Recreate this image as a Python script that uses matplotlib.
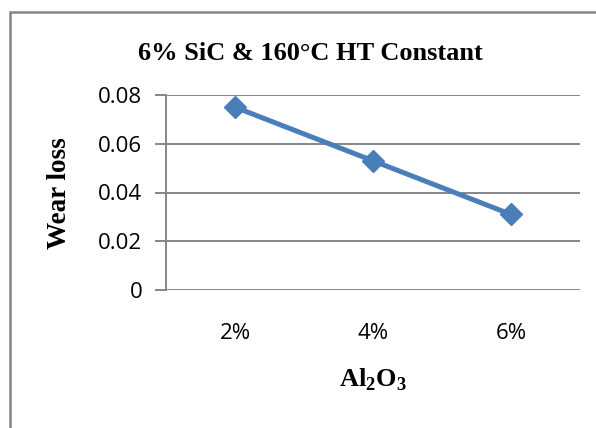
import matplotlib
matplotlib.use("Agg")
import matplotlib.pyplot as plt
from matplotlib.patches import Rectangle

categories = ["2%", "4%", "6%"]
wear_loss = [0.075, 0.053, 0.031]
yticks = [0, 0.02, 0.04, 0.06, 0.08]
ytick_labels = ["0", "0.02", "0.04", "0.06", "0.08"]

W, H = 596, 428
fig = plt.figure(figsize=(W / 100, H / 100), dpi=100)
fig.patch.set_facecolor("white")

# outer chart border (right/bottom edges run off the image)
fig.patches.append(Rectangle((10 / W, -0.1), 1.2, 1 - 12 / H + 0.1,
                             transform=fig.transFigure, fill=False,
                             edgecolor="#868686", linewidth=1.8))

ax = fig.add_axes([166 / W, 1 - 290 / H, (580 - 166) / W, (290 - 95) / H])
x = list(range(len(categories)))
ax.plot(x, wear_loss, color="#4a7ebb", linewidth=3.6, marker="D",
        markersize=11, zorder=3, solid_capstyle="butt")
ax.set_xlim(-0.5, len(categories) - 0.5)
ax.set_ylim(0, 0.08)
ax.set_yticks(yticks)
ax.set_yticklabels(ytick_labels)
ax.set_xticks(x)
ax.set_xticklabels(categories)
ax.yaxis.grid(True, color="#868686", linewidth=1.4)
ax.set_axisbelow(True)
for s in ["top", "right", "bottom"]:
    ax.spines[s].set_visible(False)
ax.spines["left"].set_color("#868686")
ax.spines["left"].set_linewidth(1.4)
ax.tick_params(axis="y", length=8, width=1.4, color="#868686", pad=9,
               labelsize=16)
ax.tick_params(axis="x", length=0, pad=24, labelsize=16)
for lab in ax.get_xticklabels() + ax.get_yticklabels():
    lab.set_family(["Open Sans", "DejaVu Sans"])
    lab.set_color("black")

fig.text(310 / W, 1 - 53 / H, "6% SiC & 160°C HT Constant", ha="center",
         va="center", fontsize=19, fontweight="bold",
         family="Liberation Serif")
fig.text(60 / W, 1 - 193 / H, "Wear loss", ha="center", va="center",
         rotation=90, fontsize=19.5, fontweight="bold", family="Liberation Serif")
fig.text(373 / W, 1 - 380 / H, r"Al$_\mathregular{2}$O$_\mathregular{3}$",
         ha="center", va="center", fontsize=19, fontweight="bold",
         family="Liberation Serif")

fig.savefig("out.png", dpi=100)
